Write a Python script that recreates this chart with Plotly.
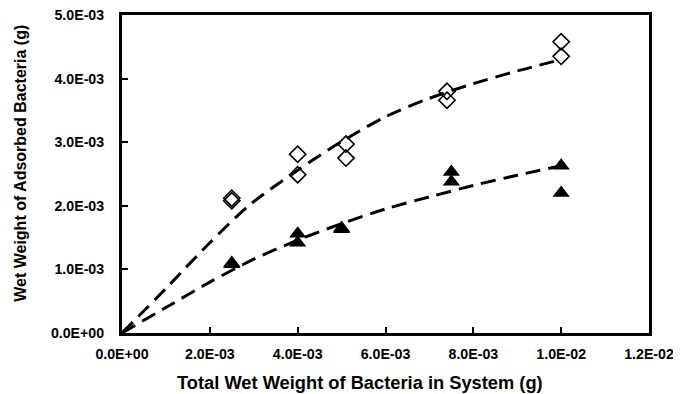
import plotly.graph_objects as go

# Measured data (open diamonds)
diamond_x = [0.0025, 0.0025, 0.0040, 0.0040, 0.0051, 0.0051, 0.0074, 0.0074, 0.0100, 0.0100]
diamond_y = [2.12e-3, 2.08e-3, 2.81e-3, 2.49e-3, 2.97e-3, 2.75e-3, 3.80e-3, 3.66e-3, 4.58e-3, 4.35e-3]

# Measured data (filled triangles)
triangle_x = [0.0025, 0.0025, 0.0040, 0.0040, 0.0050, 0.0050, 0.0075, 0.0075, 0.0100, 0.0100]
triangle_y = [1.10e-3, 1.08e-3, 1.56e-3, 1.42e-3, 1.65e-3, 1.63e-3, 2.53e-3, 2.38e-3, 2.63e-3, 2.20e-3]

# Dashed fitted curves
upper_fit_x = [0, 0.001, 0.002, 0.0029, 0.004, 0.005, 0.006, 0.007, 0.008, 0.009, 0.010]
upper_fit_y = [0, 0.70e-3, 1.42e-3, 2.01e-3, 2.56e-3, 3.01e-3, 3.40e-3, 3.69e-3, 3.92e-3, 4.12e-3, 4.30e-3]
lower_fit_x = [0, 0.001, 0.002, 0.003, 0.004, 0.005, 0.006, 0.007, 0.008, 0.009, 0.010]
lower_fit_y = [0, 0.40e-3, 0.80e-3, 1.16e-3, 1.46e-3, 1.72e-3, 1.95e-3, 2.14e-3, 2.32e-3, 2.48e-3, 2.63e-3]

x_tickvals = [0, 0.002, 0.004, 0.006, 0.008, 0.010, 0.012]
x_ticktext = ["0.0E+00", "2.0E-03", "4.0E-03", "6.0E-03", "8.0E-03", "1.0E-02", "1.2E-02"]
y_tickvals = [0, 0.001, 0.002, 0.003, 0.004, 0.005]
y_ticktext = ["0.0E+00", "1.0E-03", "2.0E-03", "3.0E-03", "4.0E-03", "5.0E-03"]

x_title = "Total Wet Weight of Bacteria in System (g)"
y_title = "Wet Weight of Adsorbed Bacteria (g)"

fig = go.Figure()
dash_style = dict(color="black", width=3, dash="15px,8px")
fig.add_trace(go.Scatter(x=upper_fit_x, y=upper_fit_y, mode="lines",
                         line=dict(shape="spline", smoothing=0.8, **dash_style),
                         showlegend=False, hoverinfo="skip"))
fig.add_trace(go.Scatter(x=lower_fit_x, y=lower_fit_y, mode="lines",
                         line=dict(shape="spline", smoothing=0.8, **dash_style),
                         showlegend=False, hoverinfo="skip"))
fig.add_trace(go.Scatter(x=diamond_x, y=diamond_y, mode="markers",
                         marker=dict(symbol="diamond-open", size=12.5, color="black",
                                     line=dict(width=1.6, color="black")),
                         showlegend=False))
fig.add_trace(go.Scatter(x=triangle_x, y=triangle_y, mode="markers",
                         marker=dict(symbol="triangle-up", size=15, color="black"),
                         showlegend=False))

font_family = "Liberation Sans, Arial, sans-serif"
axis_common = dict(showline=True, linewidth=3, linecolor="black", mirror=True,
                   ticks="inside", ticklen=6, tickwidth=2, tickcolor="black",
                   showgrid=False, zeroline=False, automargin=False,
                   ticklabeloverflow="allow",
                   tickfont=dict(family=font_family, size=14.2, color="black", weight="bold"))

# The page body has an 8px margin, so the figure is sized/offset to compensate.
fig.update_layout(
    width=673, height=386,
    margin=dict(l=114, r=32, t=7, b=61),
    plot_bgcolor="white", paper_bgcolor="white",
    xaxis=dict(range=[0, 0.012], tickvals=x_tickvals, ticktext=x_ticktext,
               ticklabelstandoff=6, **axis_common),
    yaxis=dict(range=[0, 0.005], tickvals=y_tickvals, ticktext=y_ticktext,
               ticklabelstandoff=12, **axis_common),
    annotations=[
        dict(text=x_title, xref="paper", yref="paper", x=0.452, y=-0.157,
             xanchor="center", yanchor="middle", showarrow=False,
             font=dict(family=font_family, size=18.3, color="black", weight="bold")),
        dict(text=y_title, xref="paper", yref="paper", x=-0.193, y=0.533,
             xanchor="center", yanchor="middle", showarrow=False, textangle=-90,
             font=dict(family=font_family, size=16, color="black", weight="bold")),
    ],
)

fig.write_html("out.html")
